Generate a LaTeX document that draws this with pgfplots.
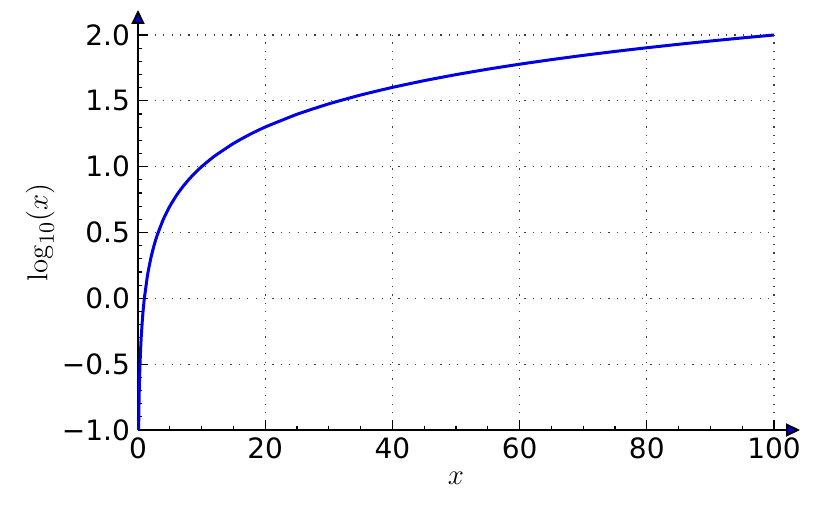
\documentclass[border=0pt]{standalone}
\usepackage[no-math]{fontspec}
\newfontfamily\dejavu{DejaVu Sans}
\usepackage{pgfplots}
\pgfplotsset{compat=1.18}
\usetikzlibrary{arrows.meta}

\begin{document}
\begin{tikzpicture}
\begin{axis}[
    scale only axis,
    width=318pt, height=197.5pt,
    xmin=0, xmax=100, ymin=-1, ymax=2,
    axis lines=left,
    x axis line style={line width=1pt, shorten >=-13pt, -{Triangle[length=7pt,width=6.5pt,fill=blue!90!black]}},
    y axis line style={line width=1pt, shorten >=-12.5pt, -{Triangle[length=7pt,width=6.5pt,fill=blue!90!black]}},
    xtick={0,20,40,60,80,100},
    xticklabels={0,20,40,60,80,100},
    ytick={-1,-0.5,0,0.5,1,1.5,2},
    yticklabels={−1.0,−0.5,0.0,0.5,1.0,1.5,2.0},
    minor x tick num=3,
    minor y tick num=4,
    tick align=inside,
    major tick length=5pt,
    minor tick length=2pt,
    tick style={black, line width=0.6pt},
    ticklabel style={font=\dejavu\fontsize{14}{16}\selectfont},
    xticklabel style={yshift=-0.5pt},
    yticklabel style={xshift=-0.5pt},
    grid=major,
    major grid style={black!75, line width=0.6pt, dash pattern=on 0.6pt off 3.6pt},
    xlabel={$x$},
    ylabel={$\log_{10}(x)$},
    label style={font=\fontsize{15}{17}\selectfont},
    xlabel style={at={(axis description cs:0.5,-0.122)}, anchor=center},
    ylabel style={at={(axis description cs:-0.154,0.5)}, anchor=center, rotate=0},
    clip=false,
]
\addplot[color=blue!90!black, line width=1.5pt, smooth, tension=0.3] coordinates {
(0.1,-1)(0.12,-0.9208)(0.15,-0.8239)(0.2,-0.6990)(0.25,-0.6021)(0.3,-0.5229)
(0.4,-0.3979)(0.5,-0.3010)(0.7,-0.1549)(0.8,-0.0969)(1,0)(1.5,0.1761)
(2,0.3010)(2.5,0.3979)(3,0.4771)(4,0.6021)(5,0.6990)(6,0.7782)(7,0.8451)
(8,0.9031)(9,0.9542)(10,1)(12,1.0792)(15,1.1761)(17.5,1.2430)(20,1.3010)
(25,1.3979)(30,1.4771)(35,1.5441)(40,1.6021)(45,1.6532)(50,1.6990)
(55,1.7404)(60,1.7782)(65,1.8129)(70,1.8451)(75,1.8751)(80,1.9031)
(85,1.9294)(90,1.9542)(95,1.9777)(100,2)
};
\coordinate (A) at (rel axis cs:0,0);
\coordinate (B) at (rel axis cs:1,1);
\end{axis}
\path (A) ++(-69pt,-41pt) coordinate (P);
\path (B) ++(24.5pt,17.5pt) coordinate (Q);
\pgfresetboundingbox
\path (P) rectangle (Q);
\end{tikzpicture}
\end{document}
